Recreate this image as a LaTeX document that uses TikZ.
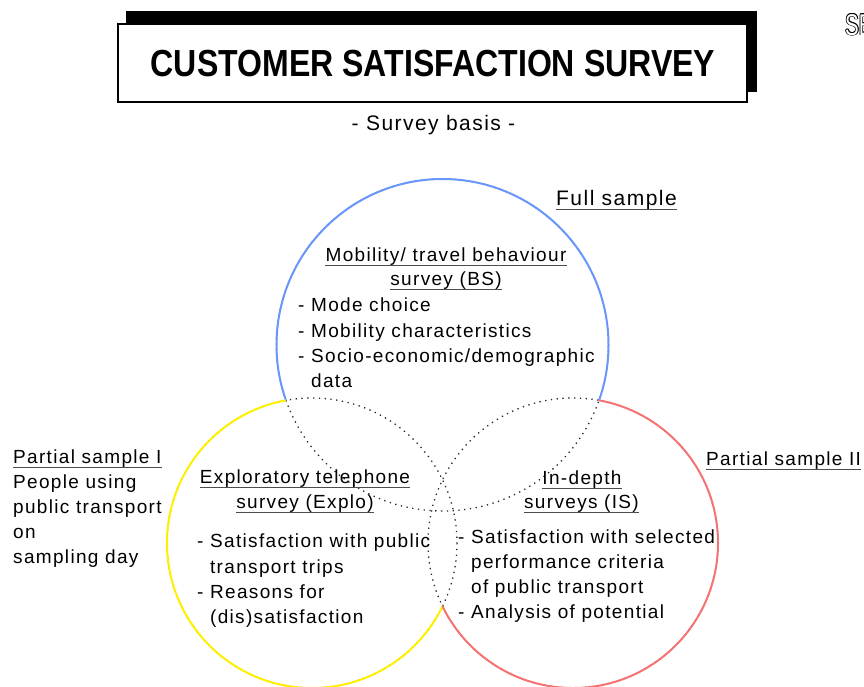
\documentclass[tikz,border=0pt]{standalone}
\usepackage{fontspec}
\setmainfont{Liberation Sans}
\newfontfamily\labfont[LetterSpace=7]{Liberation Sans}
\definecolor{bsblue}{RGB}{104,150,250}
\definecolor{exyellow}{RGB}{255,240,0}
\definecolor{isred}{RGB}{245,115,115}
\tikzset{
  body/.style={font=\labfont\fontsize{19}{24}\selectfont, inner sep=0pt, anchor=base west},
  head/.style={body, anchor=base},
  big/.style={font=\labfont\fontsize{21}{24}\selectfont},
  ring/.style={line width=2pt},
  overlap/.style={line width=1.3pt, dash pattern=on 1.3pt off 4.5pt, black!85},
  uline/.style={black!70, line width=0.9pt},
  cornertext/.style={font=\fontsize{30}{30}\selectfont, inner sep=0pt, anchor=base west},
}
% underline below a named text node
\newcommand{\underrule}[1]{\draw[uline] ([yshift=-4pt]#1.base west) -- ([yshift=-4pt]#1.base east);}
\begin{document}
\begin{tikzpicture}[x=1pt,y=-1pt]
\useasboundingbox (0,0) rectangle (864,686);

% title box with its offset shadow
\fill[black] (126,11) rectangle (757,92);
\node[draw, fill=white, line width=1.2pt, minimum width=629pt, minimum height=78pt, inner sep=0pt] (titlebox) at (432.5,63) {};
\node[font=\fontsize{37.7}{40}\selectfont\bfseries, inner sep=0pt, anchor=base] (title) at (433,76)
  {\scalebox{0.85}[1]{CUSTOMER SATISFACTION SURVEY}};
\node[body, big, anchor=base] (basis) at (433.5,130) {- Survey basis -};

% corner letters in outline
\foreach \a in {0,45,...,315}
  \node[cornertext, black] at ([shift={(\a:0.8pt)}]845,35) {\scalebox{0.68}[1]{SE}};
\node[cornertext, white] (corner) at (845,35) {\scalebox{0.68}[1]{SE}};

% the three sample circles
\coordinate (cB) at (442.5,345);
\coordinate (cY) at (312,543);
\coordinate (cR) at (573,543);

% parts lying inside another circle: dotted
\draw[overlap] (cB) circle[radius=166];
\draw[overlap] (cY) circle[radius=145];
\draw[overlap] (cR) circle[radius=145];

% outer parts: coloured
\begin{scope}[even odd rule]
  \clip (-20,-20) rectangle (900,720) (cY) circle[radius=145];
  \clip (-20,-20) rectangle (900,720) (cR) circle[radius=145];
  \draw[ring, bsblue] (cB) circle[radius=166];
\end{scope}
\begin{scope}[even odd rule]
  \clip (-20,-20) rectangle (900,720) (cB) circle[radius=166];
  \clip (-20,-20) rectangle (900,720) (cR) circle[radius=145];
  \draw[ring, exyellow] (cY) circle[radius=145];
\end{scope}
\begin{scope}[even odd rule]
  \clip (-20,-20) rectangle (900,720) (cB) circle[radius=166];
  \clip (-20,-20) rectangle (900,720) (cY) circle[radius=145];
  \draw[ring, isred] (cR) circle[radius=145];
\end{scope}

% sample labels
\node[body, big] (full) at (556,205) {Full sample};
\underrule{full}
\node[body] (p1) at (13,463) {Partial sample I};
\underrule{p1}
\node[body] (p1a) at (13,488) {People using};
\node[body] (p1b) at (13,513) {public transport};
\node[body] (p1c) at (13,538) {on};
\node[body] (p1d) at (13,563) {sampling day};
\node[body] (p2) at (706,465) {Partial sample II};
\underrule{p2}

% behaviour survey
\node[head] (bs1) at (446,261) {Mobility/ travel behaviour};
\underrule{bs1}
\node[head] (bs2) at (446,285) {survey (BS)};
\underrule{bs2}
\node[body] (bsa) at (298,311) {- Mode choice};
\node[body] (bsb) at (298,337) {- Mobility characteristics};
\node[body] (bsc) at (298,362) {- Socio-economic/demographic};
\node[body] (bsd) at (298,387) {\phantom{- }data};

% exploratory survey
\node[head] (ex1) at (305,483) {Exploratory telephone};
\underrule{ex1}
\node[head] (ex2) at (305,508) {survey (Explo)};
\underrule{ex2}
\node[body] (exa) at (197,547) {- Satisfaction with public};
\node[body] (exb) at (197,573) {\phantom{- }transport trips};
\node[body] (exc) at (197,598) {- Reasons for};
\node[body] (exd) at (197,623) {\phantom{- }(dis)satisfaction};

% in-depth surveys
\node[head] (is1) at (582,484) {In-depth};
\underrule{is1}
\node[head] (is2) at (581.5,508) {surveys (IS)};
\underrule{is2}
\node[body] (isa) at (458,543) {- Satisfaction with selected};
\node[body] (isb) at (458,568) {\phantom{- }performance criteria};
\node[body] (isc) at (458,593) {\phantom{- }of public transport};
\node[body] (isd) at (458,618) {- Analysis of potential};
\end{tikzpicture}
\end{document}
